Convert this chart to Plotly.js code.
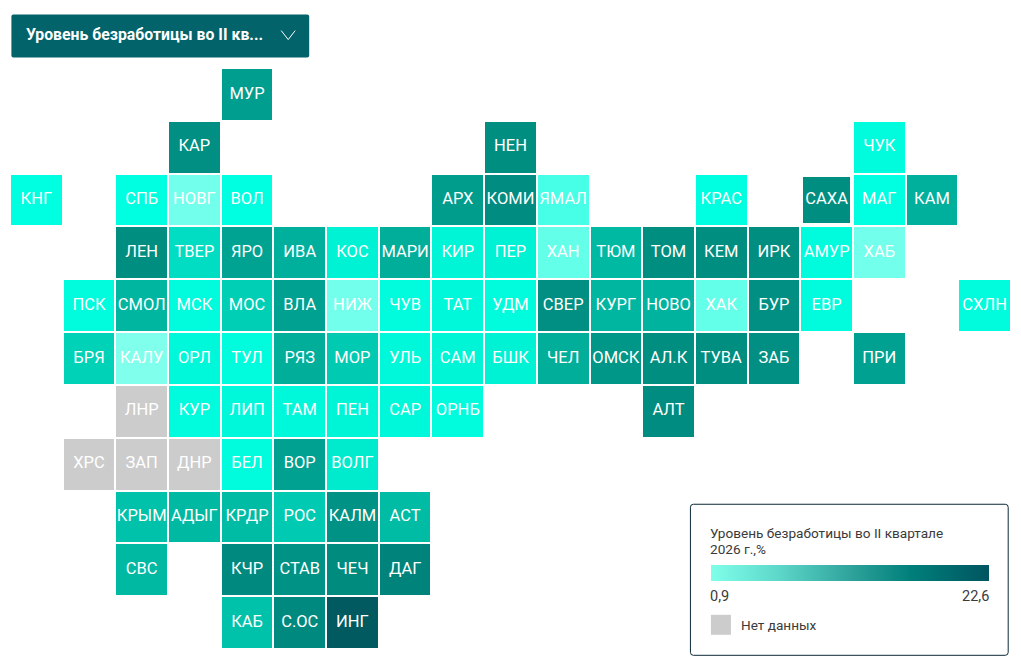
<!DOCTYPE html>
<html><head><meta charset="utf-8">
<script src="https://cdn.plot.ly/plotly-3.0.1.min.js"></script>
<style>html,body{margin:0;padding:0;background:#fff}#c{width:1021px;height:669px}</style>
</head><body><div id="c"></div>
<script>
const _ = null;
// Tile-grid map: each row of the arrays is one row of the grid, each slot one column
const regionRows = [
 ['','','','','МУР','','','','','','','','','','','','','',''],
 ['','','','КАР','','','','','','НЕН','','','','','','','ЧУК','',''],
 ['КНГ','','СПБ','НОВГ','ВОЛ','','','','АРХ','КОМИ','ЯМАЛ','','','КРАС','','САХА','МАГ','КАМ',''],
 ['','','ЛЕН','ТВЕР','ЯРО','ИВА','КОС','МАРИ','КИР','ПЕР','ХАН','ТЮМ','ТОМ','КЕМ','ИРК','АМУР','ХАБ','',''],
 ['','ПСК','СМОЛ','МСК','МОС','ВЛА','НИЖ','ЧУВ','ТАТ','УДМ','СВЕР','КУРГ','НОВО','ХАК','БУР','ЕВР','','','СХЛН'],
 ['','БРЯ','КАЛУ','ОРЛ','ТУЛ','РЯЗ','МОР','УЛЬ','САМ','БШК','ЧЕЛ','ОМСК','АЛ.К','ТУВА','ЗАБ','','ПРИ','',''],
 ['','','ЛНР','КУР','ЛИП','ТАМ','ПЕН','САР','ОРНБ','','','','АЛТ','','','','','',''],
 ['','ХРС','ЗАП','ДНР','БЕЛ','ВОР','ВОЛГ','','','','','','','','','','','',''],
 ['','','КРЫМ','АДЫГ','КРДР','РОС','КАЛМ','АСТ','','','','','','','','','','',''],
 ['','','СВС','','КЧР','СТАВ','ЧЕЧ','ДАГ','','','','','','','','','','',''],
 ['','','','','КАБ','С.ОС','ИНГ','','','','','','','','','','','','']
];
const valueRows = [
 [_,_,_,_,4.9,_,_,_,_,_,_,_,_,_,_,_,_,_,_],
 [_,_,_,5.5,_,_,_,_,_,5.6,_,_,_,_,_,_,1.9,_,_],
 [1.8,_,1.8,1.0,1.8,_,_,_,5.0,5.8,1.3,_,_,1.8,_,5.6,1.8,4.2,_],
 [_,_,5.6,2.8,4.7,4.2,2.2,4.3,2.1,2.2,1.1,3.9,5.6,5.6,5.6,1.9,1.0,_,_],
 [_,1.9,4.0,1.9,3.2,4.8,1.0,1.9,2.0,1.9,5.5,4.0,4.1,1.1,5.5,1.9,_,_,1.9],
 [_,3.1,0.9,2.0,1.9,4.3,3.3,2.0,2.1,2.2,4.3,5.2,5.6,5.6,5.5,_,4.8,_,_],
 [_,_,_,1.9,2.0,2.0,2.1,2.0,1.9,_,_,_,5.8,_,_,_,_,_,_],
 [_,_,_,_,1.9,4.8,2.4,_,_,_,_,_,_,_,_,_,_,_,_],
 [_,_,3.6,3.9,3.8,3.3,5.4,3.8,_,_,_,_,_,_,_,_,_,_,_],
 [_,_,3.9,_,6.0,5.4,5.9,6.6,_,_,_,_,_,_,_,_,_,_,_],
 [_,_,_,_,3.6,6.0,22.6,_,_,_,_,_,_,_,_,_,_,_,_]
];
const insetRegion = 'САХА';
const dropdownText = 'Уровень безработицы во II кв...';
const legendTitle = ['Уровень безработицы во II квартале', '2026 г.,%'];
const legendMinText = '0,9', legendMaxText = '22,6', noDataText = 'Нет данных';
const valueMin = 0.9, valueMax = 22.6;

const W = 1021, H = 669;
const M = {l:9.6, r:9.7, t:68.4, b:19.8, pad:0, autoexpand:false};
const PW = W - M.l - M.r, PH = H - M.t - M.b;
// page pixels -> paper fractions of the plot area
const px = x => (x - M.l) / PW, py = y => 1 - (y - M.t) / PH;
const norm = v => (v - valueMin) / (valueMax - valueMin);
const cellScale = [[0.9,'#80FFEC'],[1.8,'#00FFE0'],[2.5,'#00E8CB'],[3.5,'#00C4AC'],[4.5,'#00A896'],
                   [5.5,'#008F82'],[7,'#007F78'],[22.6,'#005A60']].map(([v,c]) => [norm(v), c]);
const legendScale = [[0,'#7FFFEA'],[0.25,'#5CD6C8'],[0.5,'#2FA39C'],[0.72,'#007F7A'],[1,'#005560']];

const colIdx = regionRows[0].map((_c,i) => i), rowIdx = regionRows.map((_r,i) => i);
const isInset = (r,c) => regionRows[r][c] === insetRegion;
const mainZ = valueRows.map((row,r) => row.map((v,c) => isInset(r,c) ? null : v));
const insetZ = valueRows.map((row,r) => row.map((v,c) => isInset(r,c) ? v : null));
const greyZ = regionRows.map((row,r) => row.map((l,c) => (l && valueRows[r][c] === null) ? 1 : null));
const lx = [], ly = [], lt = [];
regionRows.forEach((row,r) => row.forEach((l,c) => { if (l) { lx.push(c); ly.push(r); lt.push(l); } }));

const common = {x: colIdx, y: rowIdx, zmin: valueMin, zmax: valueMax, colorscale: cellScale,
                showscale: false, hoverongaps: false, zsmooth: false};
const traces = [
 Object.assign({type:'heatmap', z: mainZ, xgap: 2, ygap: 2}, common),
 Object.assign({type:'heatmap', z: insetZ, xgap: 6, ygap: 6}, common),
 {type:'heatmap', x: colIdx, y: rowIdx, z: greyZ, xgap: 2, ygap: 2, zmin: 0, zmax: 1,
  colorscale: [[0,'#CCCCCC'],[1,'#CCCCCC']], showscale: false, hoverongaps: false},
 {type:'scatter', mode:'text', x: lx, y: ly, text: lt, textposition:'middle center', hoverinfo:'text',
  cliponaxis:false, textfont:{family:'Roboto, sans-serif', size:16.5, color:'#FFFFFF'}, showlegend:false},
 {type:'scatter', mode:'markers', x:[_], y:[_], hoverinfo:'skip', showlegend:false,
  marker:{color:[valueMin,valueMax], cmin:valueMin, cmax:valueMax, colorscale:legendScale, showscale:true,
   colorbar:{orientation:'h', xref:'container', yref:'container', x:725/W, y:1-565/H, xanchor:'left', yanchor:'top',
    lenmode:'pixels', len:278, thicknessmode:'pixels', thickness:16, xpad:0, ypad:0,
    outlinewidth:0, borderwidth:0, ticks:'', showticklabels:false}}}
];

function rrect(x0,y0,x1,y1,r){
  const X = px, Y = py, rx = r/PW, ry = r/PH;
  return `M${X(x0)+rx},${Y(y0)} L${X(x1)-rx},${Y(y0)} Q${X(x1)},${Y(y0)} ${X(x1)},${Y(y0)-ry} `+
         `L${X(x1)},${Y(y1)+ry} Q${X(x1)},${Y(y1)} ${X(x1)-rx},${Y(y1)} L${X(x0)+rx},${Y(y1)} `+
         `Q${X(x0)},${Y(y1)} ${X(x0)},${Y(y1)+ry} L${X(x0)},${Y(y0)-ry} Q${X(x0)},${Y(y0)} ${X(x0)+rx},${Y(y0)} Z`;
}
const shapes = [
 {type:'path', xref:'paper', yref:'paper', path:rrect(11,15,309,58,2), fillcolor:'#02636A', line:{width:0}},
 {type:'path', xref:'paper', yref:'paper', path:`M${px(281)},${py(31)} L${px(288)},${py(40)} L${px(295)},${py(31)}`,
  line:{color:'#FFFFFF', width:1}, fillcolor:'rgba(0,0,0,0)'},
 {type:'path', xref:'paper', yref:'paper', path:rrect(690.5,504.5,1008.5,655.5,3), fillcolor:'#FFFFFF',
  line:{color:'#0B2A38', width:1}},
 {type:'rect', xref:'paper', yref:'paper', x0:px(711), x1:px(731), y0:py(615), y1:py(635),
  fillcolor:'#CCCCCC', line:{width:0}}
];
const note = (text,x,y,size,color,anchor,weight) => ({text, xref:'paper', yref:'paper', x:px(x), y:py(y),
  xanchor:anchor||'left', yanchor:'middle', showarrow:false, borderpad:0, borderwidth:0,
  font:{family:'Roboto, sans-serif', size, color, weight:weight||400}});
const annotations = [
 note(dropdownText,26,35,15.8,'#FFFFFF','left',700),
 note(legendTitle[0],710.5,533,13.6,'#3A3A3A'),
 note(legendTitle[1],710.5,549,13.6,'#3A3A3A'),
 note(legendMinText,710.5,597,14.5,'#3A3A3A'),
 note(legendMaxText,989,597,14.5,'#3A3A3A','right'),
 note(noDataText,741,625.5,13.6,'#3A3A3A')
];
const layout = {
 width:W, height:H, paper_bgcolor:'#FFFFFF', plot_bgcolor:'#FFFFFF', showlegend:false,
 margin:M,
 xaxis:{range:[-0.5,18.5], visible:false, fixedrange:true},
 yaxis:{range:[10.5,-0.5], visible:false, fixedrange:true},
 shapes, annotations
};
Plotly.newPlot('c', traces, layout, {displayModeBar:false, responsive:false});
</script></body></html>
